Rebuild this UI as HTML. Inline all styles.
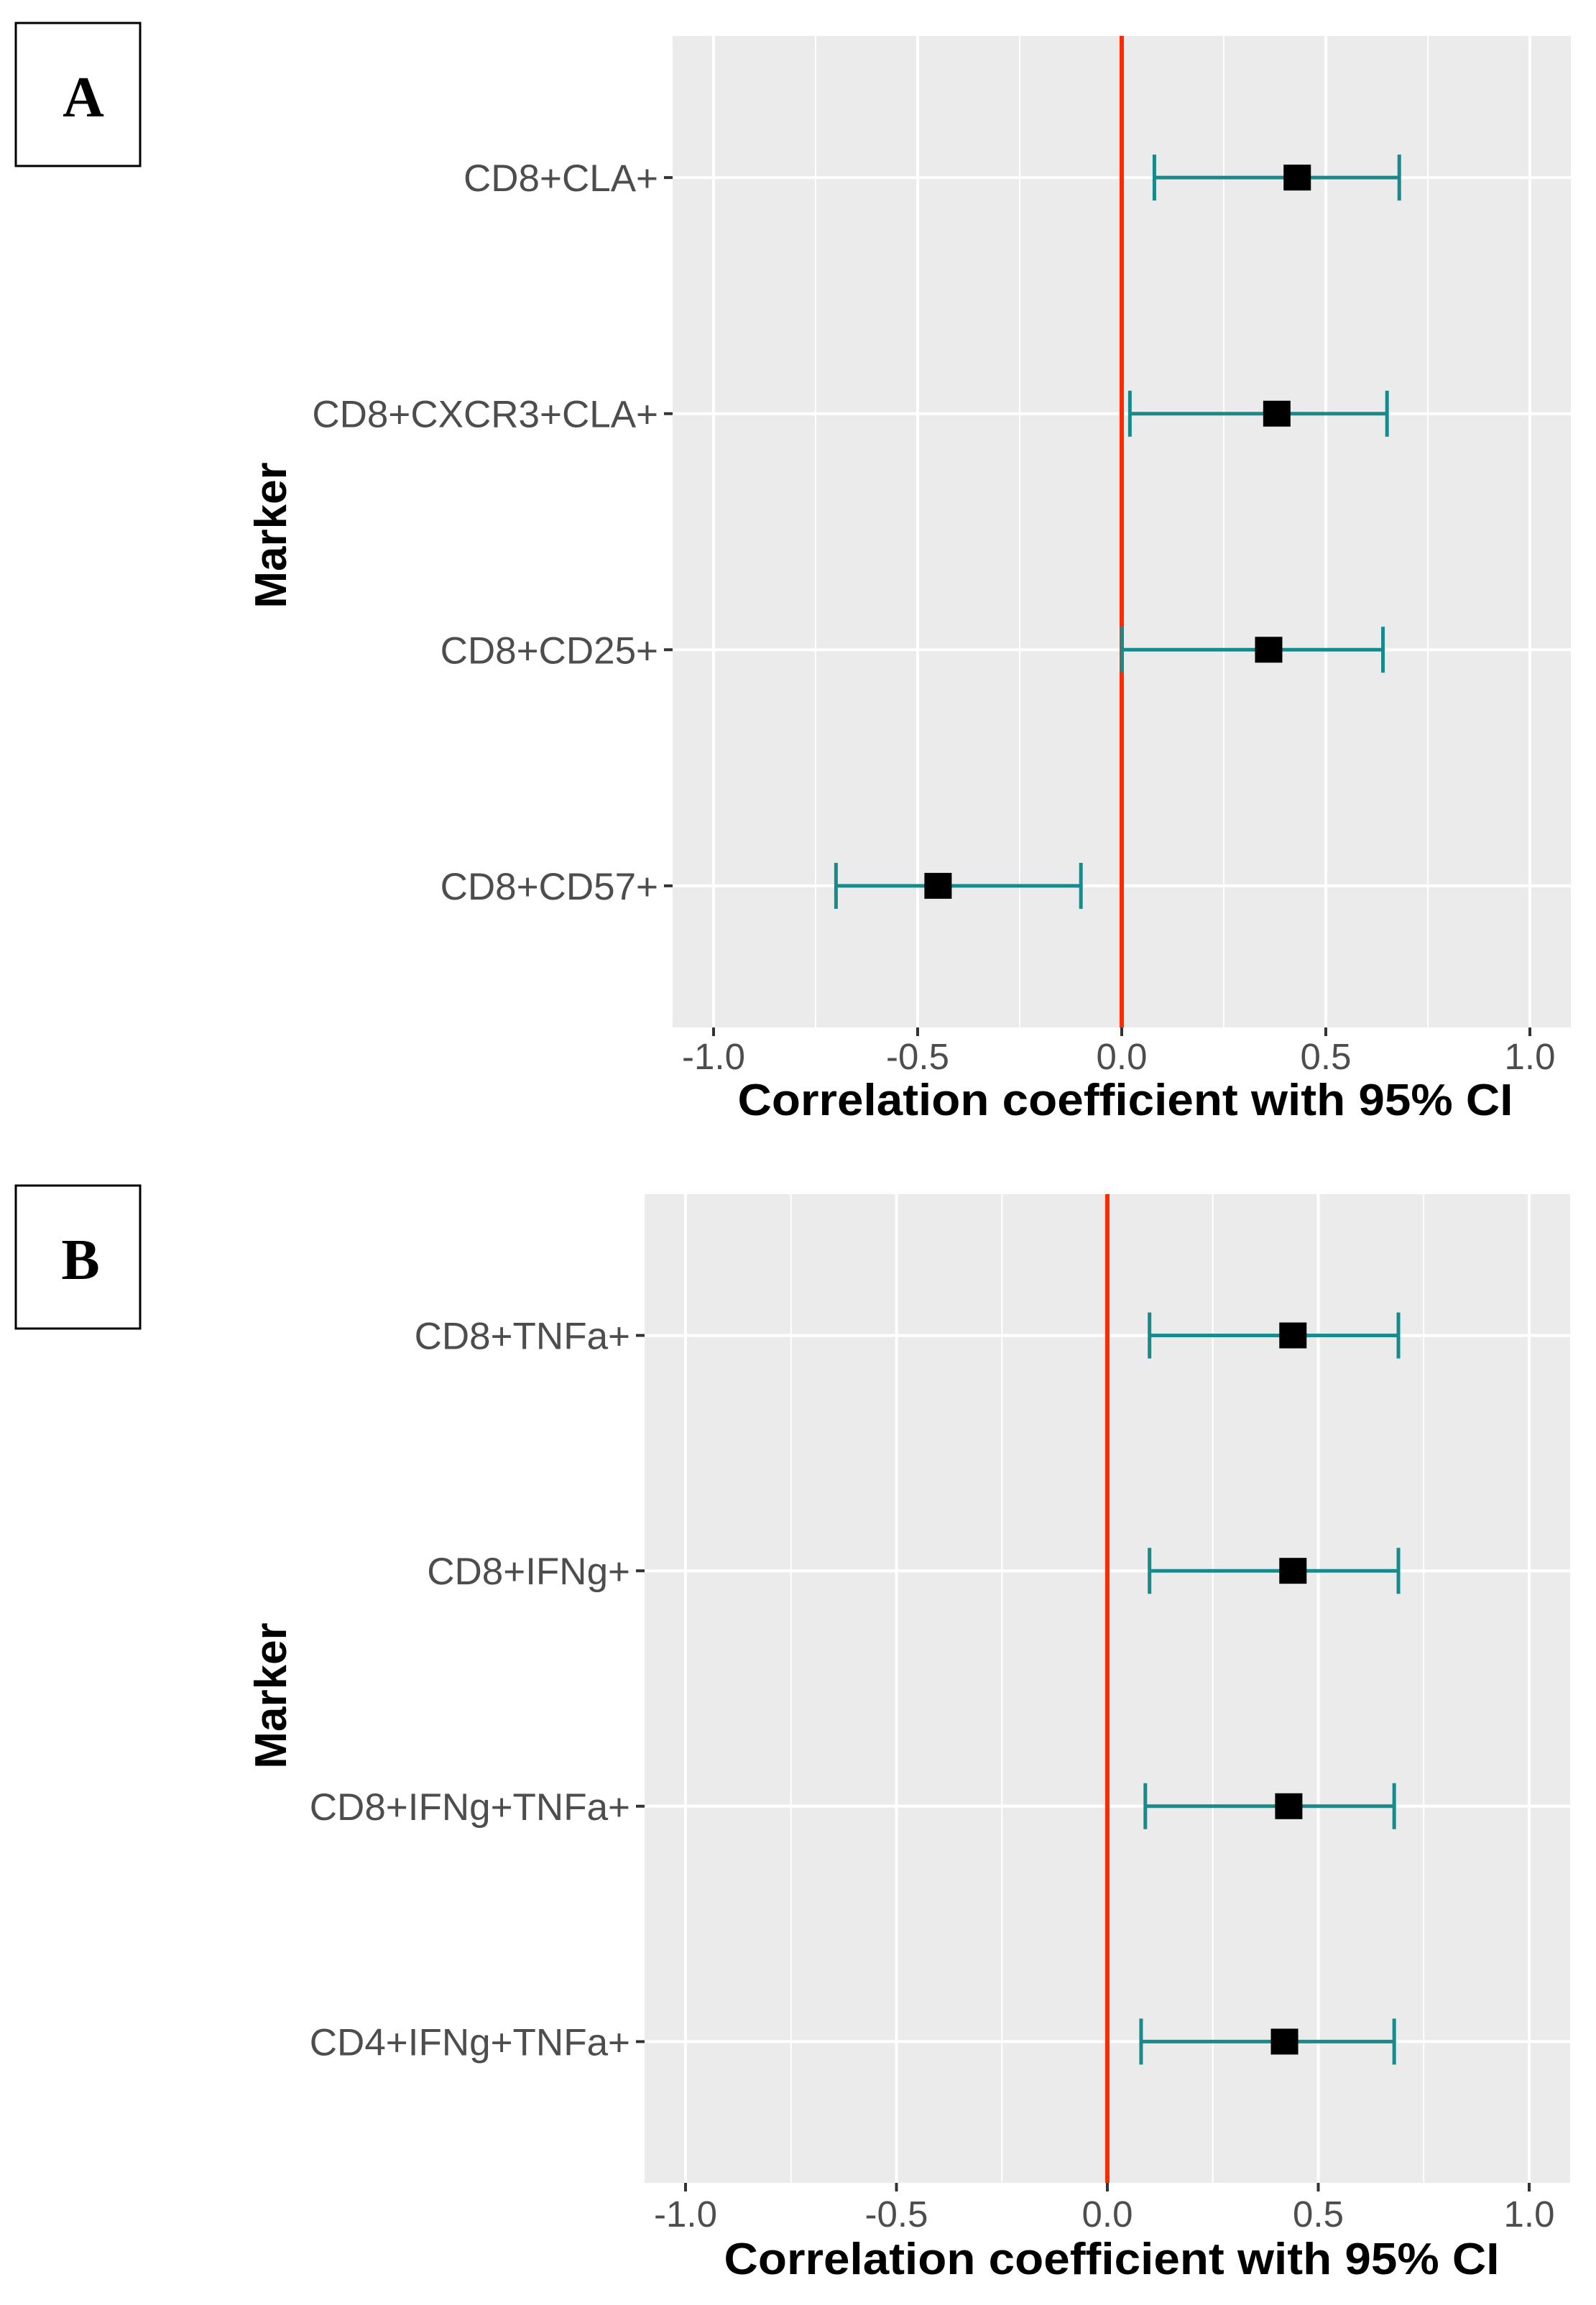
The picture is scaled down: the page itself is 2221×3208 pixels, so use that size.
<!DOCTYPE html>
<html><head><meta charset="utf-8"><style>
html,body{margin:0;padding:0;background:#fff;}
svg{display:block;}
</style></head><body>
<svg id="fig" width="2221" height="3208" viewBox="0 0 2221 3208" xmlns="http://www.w3.org/2000/svg">
  <rect x="0" y="0" width="2221" height="3208" fill="#fff"/>
  <g>
    <rect x="22" y="32" width="173" height="199" fill="none" stroke="#000" stroke-width="3"/>
    <text x="116" y="162" text-anchor="middle" font-family="Liberation Serif, serif" font-weight="bold" font-size="80">A</text>
  </g>
  <g>
    <rect x="22" y="1650" width="173" height="199" fill="none" stroke="#000" stroke-width="3"/>
    <text x="112" y="1780" text-anchor="middle" font-family="Liberation Serif, serif" font-weight="bold" font-size="80">B</text>
  </g>
  <g id="chartA"></g>
  <g id="chartB"></g>
</svg>
<script>
const markersA = ["CD8+CLA+", "CD8+CXCR3+CLA+", "CD8+CD25+", "CD8+CD57+"];
const estA = [0.43, 0.38, 0.36, -0.45];
const lowA = [0.08, 0.02, 0.00, -0.70];
const highA = [0.68, 0.65, 0.64, -0.10];

const markersB = ["CD8+TNFa+", "CD8+IFNg+", "CD8+IFNg+TNFa+", "CD4+IFNg+TNFa+"];
const estB = [0.44, 0.44, 0.43, 0.42];
const lowB = [0.10, 0.10, 0.09, 0.08];
const highB = [0.69, 0.69, 0.68, 0.68];

const xTicks = [-1.0, -0.5, 0.0, 0.5, 1.0];
const xTickLabels = ["-1.0", "-0.5", "0.0", "0.5", "1.0"];
const xMinor = [-0.75, -0.25, 0.25, 0.75];
const refValue = 0;

const NS = "http://www.w3.org/2000/svg";
function mk(parent, tag, attrs) {
  const e = document.createElementNS(NS, tag);
  for (const k in attrs) e.setAttribute(k, attrs[k]);
  parent.appendChild(e);
  return e;
}

function drawChart(g, cfg, markers, est, low, high) {
  const L = cfg.left, R = cfg.right, T = cfg.top, B = cfg.bottom;
  const xScale = v => cfg.x0 + v * cfg.unit;
  const n = markers.length;
  const step = (B - T) / (n - 1 + 1.2);
  const yScale = i => T + 0.6 * step + i * step;

  const bg = mk(g, "rect", {x: L, y: T, width: R - L, height: B - T, fill: "#ebebeb"});
  
  

  xMinor.forEach(v => {
    const l = mk(g, "line", {x1: xScale(v), x2: xScale(v), y1: T, y2: B, stroke: "#fff", "stroke-width": 2});
    
    
  });
  xTicks.forEach(v => {
    const l = mk(g, "line", {x1: xScale(v), x2: xScale(v), y1: T, y2: B, stroke: "#fff", "stroke-width": 4});
    
    
  });
  markers.forEach((m, i) => {
    const y = yScale(i);
    const l = mk(g, "line", {x1: L, x2: R, y1: y, y2: y, stroke: "#fff", "stroke-width": 4});
    
    
  });

  const ref = mk(g, "line", {x1: xScale(refValue), x2: xScale(refValue), y1: T, y2: B, stroke: "#ff2a00", "stroke-width": 6});
  
  

  markers.forEach((m, i) => {
    const y = yScale(i);
    const grp = mk(g, "g", {});
    
    
    const c = "#178a8c";
    mk(grp, "line", {x1: xScale(low[i]), x2: xScale(high[i]), y1: y, y2: y, stroke: c, "stroke-width": 5});
    mk(grp, "line", {x1: xScale(low[i]), x2: xScale(low[i]), y1: y - 32, y2: y + 32, stroke: c, "stroke-width": 5});
    mk(grp, "line", {x1: xScale(high[i]), x2: xScale(high[i]), y1: y - 32, y2: y + 32, stroke: c, "stroke-width": 5});
    const p = mk(g, "rect", {x: xScale(est[i]) - 19, y: y - 18, width: 38, height: 36, fill: "#000"});
    
    

    const tk = mk(g, "line", {x1: L - 12, x2: L, y1: y, y2: y, stroke: "#333", "stroke-width": 4});
    
    
    const t = mk(g, "text", {x: L - 20, y: y + 19, "text-anchor": "end", "font-family": "Liberation Sans, sans-serif", "font-size": 53, fill: "#4d4d4d"});
    t.textContent = m;
    
    
  });

  xTicks.forEach((v, i) => {
    const tk = mk(g, "line", {x1: xScale(v), x2: xScale(v), y1: B, y2: B + 12, stroke: "#333", "stroke-width": 4});
    
    
    const t = mk(g, "text", {x: xScale(v), y: B + cfg.tickDy, "text-anchor": "middle", "font-family": "Liberation Sans, sans-serif", "font-size": 51, fill: "#4d4d4d"});
    t.textContent = xTickLabels[i];
    
    
  });

  const xt = mk(g, "text", {x: cfg.titleX, y: B + cfg.titleDy, "text-anchor": "middle", "font-family": "Liberation Sans, sans-serif", "font-weight": "bold", "font-size": 62, fill: "#000", textLength: 1079, lengthAdjust: "spacingAndGlyphs"});
  xt.textContent = "Correlation coefficient with 95% CI";
  
  

  const cy = cfg.markerY;
  const yt = mk(g, "text", {x: 0, y: 0, transform: "translate(398," + cy + ") rotate(-90)", "text-anchor": "middle", "font-family": "Liberation Sans, sans-serif", "font-weight": "bold", "font-size": 62, fill: "#000"});
  yt.textContent = "Marker";
  
  
}

drawChart(document.getElementById("chartA"),
  {left: 936, right: 2186, top: 50, bottom: 1430, x0: 1561, unit: 568, titleX: 1566, markerY: 745, tickDy: 58, titleDy: 122},
  markersA, estA, lowA, highA);
drawChart(document.getElementById("chartB"),
  {left: 897, right: 2185, top: 1662, bottom: 3038, x0: 1541, unit: 587, titleX: 1547, markerY: 2360, tickDy: 61, titleDy: 127},
  markersB, estB, lowB, highB);
</script>
</body></html>
